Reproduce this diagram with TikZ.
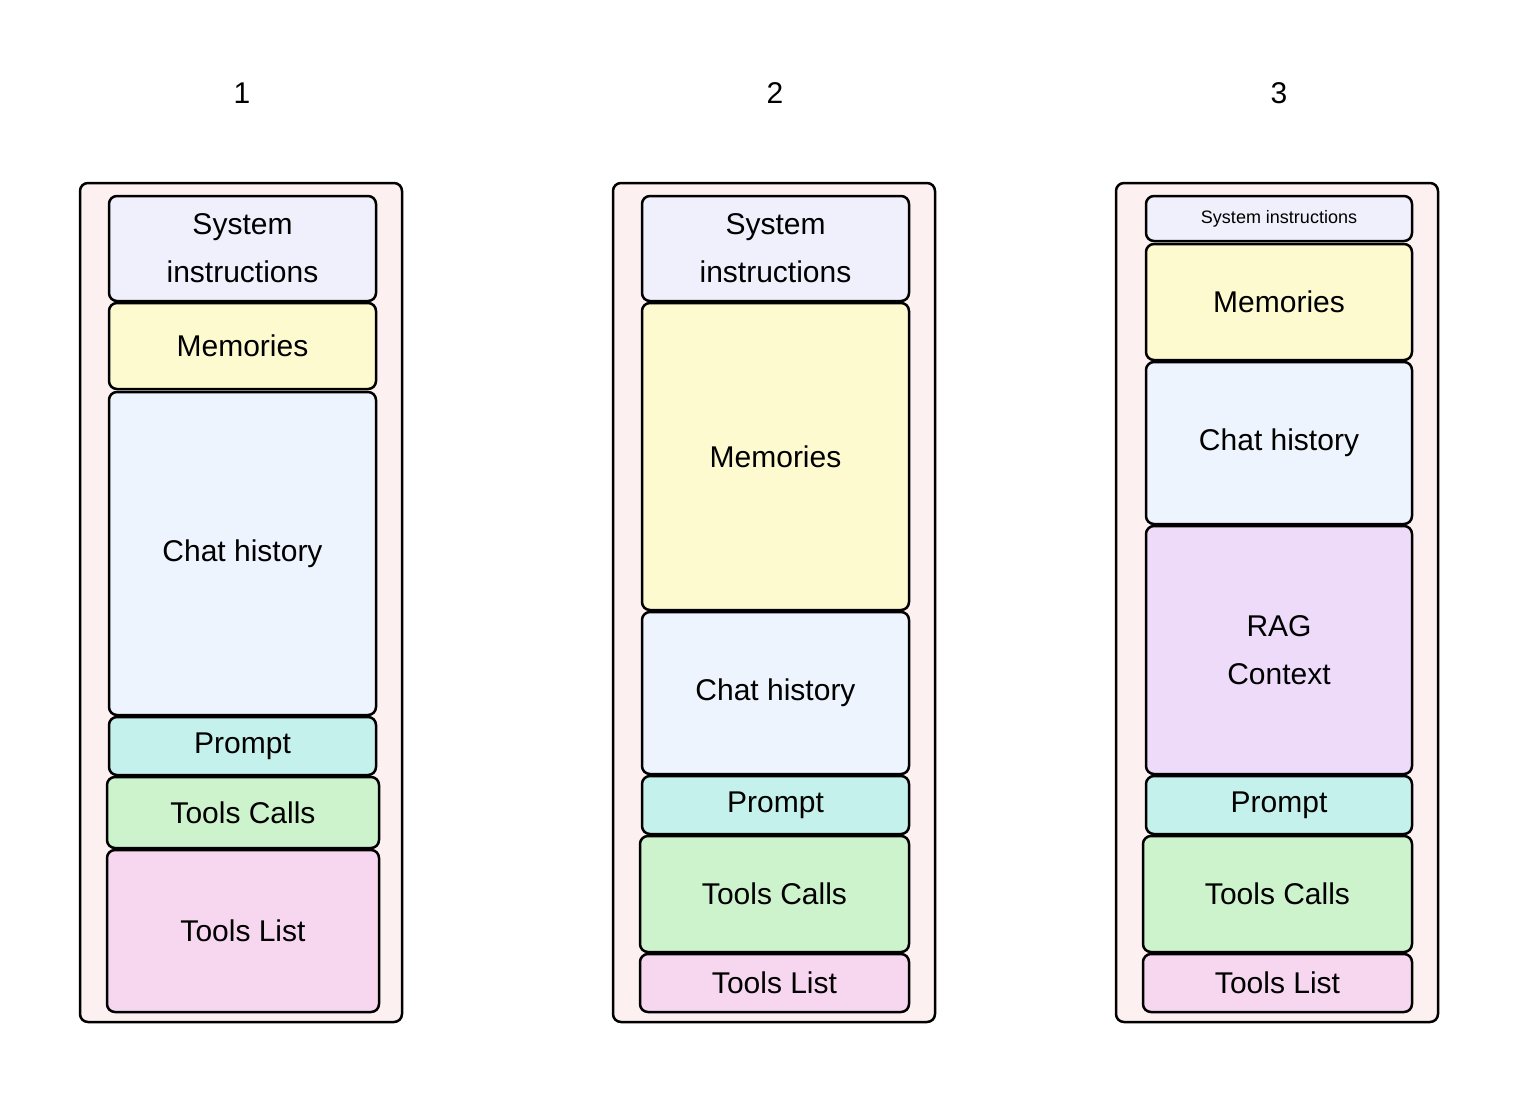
\documentclass[tikz,border=0pt]{standalone}
\usepackage{fontspec}
\setmainfont{Liberation Sans}
\usetikzlibrary{calc}
\definecolor{ctxouter}{HTML}{FDF0F0}
\definecolor{ctxsys}{HTML}{F0F0FC}
\definecolor{ctxmem}{HTML}{FDFACF}
\definecolor{ctxchat}{HTML}{EEF4FD}
\definecolor{ctxprompt}{HTML}{C4F1EC}
\definecolor{ctxcalls}{HTML}{CCF3CC}
\definecolor{ctxlist}{HTML}{F7D7F0}
\definecolor{ctxrag}{HTML}{EEDAF9}
% one block of a context window: name, fill, x1, y1, x2, y2, text
\newcommand{\ctxblk}[7]{%
  \node[blk, fill=#2, minimum width={#5-#3}, minimum height={#6-#4}]
    (#1) at ($(#3,#4)!0.5!(#5,#6)$) {#7};}
\begin{document}
\begin{tikzpicture}[
    x=1pt, y=-1pt,
    blk/.style={rectangle, rounded corners=8pt, draw=black, line width=2.5pt,
                inner sep=0pt, outer sep=0pt, align=center,
                font=\fontsize{30}{48}\selectfont},
    outer/.style={rectangle, rounded corners=8pt, draw=black, line width=2.5pt,
                  fill=ctxouter, inner sep=0pt, outer sep=0pt},
    num/.style={font=\fontsize{30}{36}\selectfont}
  ]
  \useasboundingbox (0,0) rectangle (1520,1114);

  % ---- Column 1 ----
  \node[num] (n1) at (242,93) {1};
  \node[outer, minimum width=322, minimum height=839] (w1) at (241,602.5) {};
  \ctxblk{s1}{ctxsys}{109}{196}{376}{301}{System\\instructions}
  \ctxblk{m1}{ctxmem}{109}{303}{376}{389}{Memories}
  \ctxblk{c1}{ctxchat}{109}{392}{376}{715}{Chat history}
  \ctxblk{p1}{ctxprompt}{109}{717}{376}{775}{\raisebox{-8pt}{Prompt}}
  \ctxblk{k1}{ctxcalls}{107}{777}{379}{848}{Tools Calls}
  \ctxblk{l1}{ctxlist}{107}{850}{379}{1012}{Tools List}

  % ---- Column 2 ----
  \node[num] (n2) at (775,93) {2};
  \node[outer, minimum width=322, minimum height=839] (w2) at (774,602.5) {};
  \ctxblk{s2}{ctxsys}{642}{196}{909}{301}{System\\instructions}
  \ctxblk{m2}{ctxmem}{642}{303}{909}{610}{Memories}
  \ctxblk{c2}{ctxchat}{642}{612}{909}{774}{Chat history}
  \ctxblk{p2}{ctxprompt}{642}{776}{909}{834}{\raisebox{-8pt}{Prompt}}
  \ctxblk{k2}{ctxcalls}{640}{836}{909}{952}{Tools Calls}
  \ctxblk{l2}{ctxlist}{640}{954}{909}{1012}{\raisebox{-8pt}{Tools List}}

  % ---- Column 3 ----
  \node[num] (n3) at (1279,93) {3};
  \node[outer, minimum width=322, minimum height=839] (w3) at (1277,602.5) {};
  \ctxblk{s3}{ctxsys}{1146}{196}{1412}{241}{\fontsize{18}{20}\selectfont System instructions}
  \ctxblk{m3}{ctxmem}{1146}{244}{1412}{360}{Memories}
  \ctxblk{c3}{ctxchat}{1146}{362}{1412}{524}{Chat history}
  \ctxblk{r3}{ctxrag}{1146}{526}{1412}{774}{RAG\\Context}
  \ctxblk{p3}{ctxprompt}{1146}{776}{1412}{834}{\raisebox{-8pt}{Prompt}}
  \ctxblk{k3}{ctxcalls}{1143}{836}{1412}{952}{Tools Calls}
  \ctxblk{l3}{ctxlist}{1143}{954}{1412}{1012}{\raisebox{-8pt}{Tools List}}
\end{tikzpicture}
\end{document}
